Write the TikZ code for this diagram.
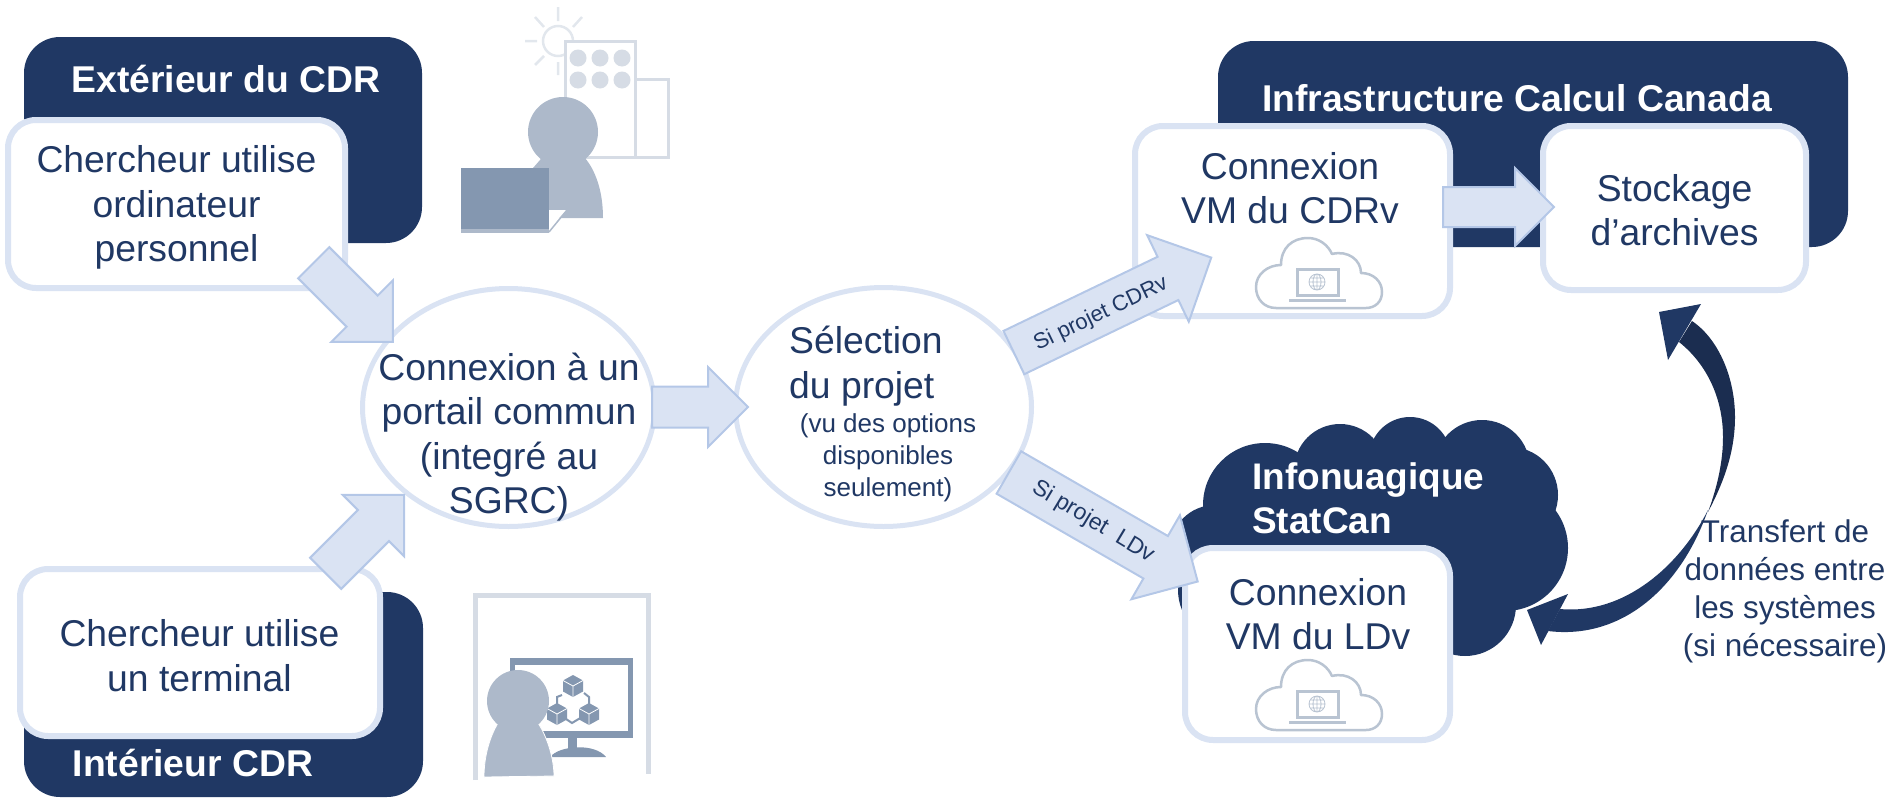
\documentclass[tikz,border=0pt]{standalone}
\usepackage{fontspec}
\setmainfont{Liberation Sans}
\usepackage{tikz}
\usetikzlibrary{shapes,arrows}
\definecolor{navy}{HTML}{203864}
\definecolor{navyDark}{HTML}{1B2D50}
\definecolor{paleBlue}{HTML}{DAE3F3}
\definecolor{midBlue}{HTML}{B4C7E7}
\definecolor{iconPale}{HTML}{D6DCE5}
\definecolor{iconMid}{HTML}{ADB9CA}
\definecolor{iconDark}{HTML}{8497B0}
\newcommand{\bodyfont}{\fontsize{37.3}{44.5}\selectfont}
\newcommand{\smallfont}{\fontsize{26}{32}\selectfont}
\tikzset{
	darkbox/.style  = {fill=navy, rounded corners=36pt},
	whitebox/.style = {draw=paleBlue, fill=white, line width=6pt, rounded corners=28pt},
	bubble/.style   = {draw=paleBlue, fill=white, line width=5pt, shape=ellipse, inner sep=0pt},
	txt/.style      = {text=navy, font=\bodyfont, align=center, inner sep=0pt},
	titletxt/.style = {text=white, font=\fontsize{37.3}{44}\selectfont\bfseries, align=left, inner sep=0pt},
	fatarrow/.style = {draw=midBlue, fill=paleBlue, line width=2pt, shape=single arrow, anchor=tail,
		single arrow tip angle=90, inner xsep=0pt},
	pics/vmcloud/.style = {code={
		\draw[iconMid!85!white, line width=2.5pt, line join=round]
			(-42,34) .. controls (-54,34) and (-62,25) .. (-62,13)
			.. controls (-62,0) and (-50,-9) .. (-37,-9)
			.. controls (-37,-26) and (-26,-36) .. (-10,-36)
			.. controls (1,-36) and (10,-29) .. (14,-20)
			.. controls (30,-24) and (43,-14) .. (43,-1)
			.. controls (55,-1) and (64,7) .. (64,18)
			.. controls (64,28) and (57,34) .. (48,34) -- cycle;
		\draw[iconMid!85!white, line width=3pt] (-21,-5) rectangle (20,21);
		\fill[iconMid!85!white] (-29,25) rectangle (28,28);
		\draw[iconMid!85!white, line width=0.8pt] (-1,8) circle (8) (-1,8) ellipse (4 and 8)
			(-9,8) -- (7,8) (-8,4) -- (6,4) (-8,12) -- (6,12) (-1,0) -- (-1,16);
	}},
}

\begin{document}
\begin{tikzpicture}[x=1pt, y=-1pt]
    \useasboundingbox (0,0) rectangle (1891,798);

    %-- Blocks creation --%
    \draw
      % LEFT SIDE %
      node(outsideBack) at (223,140) [darkbox, minimum width=398, minimum height=206] {}
      node(insideBack) at (223.5,694.5) [darkbox, minimum width=399, minimum height=205] {}
      node(outsideTitle) at (226,79) [titletxt] {Extérieur du CDR}
      node(insideTitle) at (193,763) [titletxt] {Intérieur CDR}
      node(outsideUser) at (176.5,204) [whitebox, minimum width=337, minimum height=168] {}
      node(outsideUserText) at (176.5,207.5) [txt] {Chercheur utilise\\ordinateur\\personnel}
      node(insideUser) at (200,652.5) [whitebox, minimum width=360, minimum height=167] {}
      node(insideUserText) at (199.5,655.5) [txt] {Chercheur utilise\\un terminal}
      % MIDDLE %
      node(portal) at (508.5,407.5) [bubble, minimum width=292, minimum height=238] {}
      node(portalText) at (509,437) [txt] {Connexion à un\\portail commun\\(integré au\\SGRC)}
      node(selection) at (883.5,407) [bubble, minimum width=296, minimum height=239] {}
      node[anchor=west](selectionText) at (789,366) [txt, align=left] {Sélection\\du projet}
      node(selectionNote) at (888,458) [txt, font=\smallfont] {(vu des options\\disponibles\\seulement)}
    ;
    % cloud lobes %
    \foreach \cx/\cy/\cr in {1265/505/62, 1340/470/46, 1410/458/41, 1482/468/48, 1510/495/48,
                             1505/548/63, 1465/605/51, 1230/590/52, 1215/550/45, 1370/540/100}
      \fill[navy] (\cx,\cy) circle (\cr);
    \draw
      % RIGHT SIDE %
      node(calculBack) at (1533,144) [darkbox, minimum width=630, minimum height=206] {}
      node(calculTitle) at (1517,98) [titletxt] {Infrastructure Calcul Canada}
      node(vmCdrv) at (1292.5,221) [whitebox, minimum width=315, minimum height=190] {}
      node(vmCdrvText) at (1290,188) [txt] {Connexion\\VM du CDRv}
      node(archives) at (1674.5,208) [whitebox, minimum width=263, minimum height=164] {}
      node(archivesText) at (1674.5,210) [txt] {Stockage\\d’archives}
      node[anchor=west](cloudTitle) at (1252,498) [titletxt, font=\fontsize{37}{44}\selectfont\bfseries]
        {Infonuagique\\StatCan}
      node(vmLdv) at (1317.5,644) [whitebox, minimum width=265, minimum height=192] {}
      node(vmLdvText) at (1318,614) [txt] {Connexion\\VM du LDv}
      node(transferText) at (1785,591) [txt, font=\fontsize{31.4}{38}\selectfont]
        {Transfert de\\données entre\\les systèmes\\(si nécessaire)}
    ;
    \pic at (1318,274) {vmcloud};
    \pic at (1318,696) {vmcloud};

    %-- Block linking --%
    \node[fatarrow, rotate=-45, minimum height=112, inner ysep=21, single arrow head extend=21.5]
      (outsideToPortal) at (313,262) {};
    \node[fatarrow, rotate=45, minimum height=111, inner ysep=21, single arrow head extend=21.5]
      (insideToPortal) at (325,574) {};
    \node[fatarrow, minimum height=96, inner ysep=19.5, single arrow head extend=19.5]
      (portalToSelection) at (651,407) {};
    \node[fatarrow, rotate=25.7, minimum height=219, inner ysep=23, single arrow head extend=24]
      (selectionToCdrv) at (1013,353) {};
    \node[fatarrow, rotate=-30, minimum height=218, inner ysep=23.5, single arrow head extend=24]
      (selectionToLdv) at (1008,472) {};
    \node[fatarrow, minimum height=111, inner ysep=19, single arrow head extend=19]
      (cdrvToArchives) at (1442,207) {};

    % arrow labels %
    \node[txt, rotate=25.7, font=\fontsize{22}{26}\selectfont] (cdrvLabel) at (1101,314) {Si projet CDRv};
    \node[txt, rotate=-31, font=\fontsize{23}{26}\selectfont] (ldvLabel) at (1093,522) {Si projet\ \ LDv};

    %-- Transfer arrow --%
    \fill[navy] (1708,510) .. controls (1680,565) and (1625,615) .. (1560,609)
      -- (1548,631) .. controls (1620,640) and (1680,590) .. (1708,510) -- cycle;
    \fill[navy] (1527,610) -- (1568,594) -- (1541,645) -- cycle;
    \fill[navyDark] (1692,321) .. controls (1720,340) and (1735,380) .. (1735,417)
      .. controls (1735,450) and (1725,480) .. (1708,512)
      .. controls (1718,485) and (1723,460) .. (1723,437)
      .. controls (1723,400) and (1708,365) .. (1679,342) -- cycle;
    \fill[navy] (1659,312) -- (1701,304) -- (1668,360) -- cycle;

    %-- Outside icon --%
    \draw[iconPale!70!white, line width=2.5pt] (558,41) circle (15)
      (558,7) -- (558,21) (558,62) -- (558,75) (525,41) -- (537,41)
      (535,17) -- (544,27) (582,17) -- (573,27) (535,65) -- (544,56);
    \draw[iconPale, line width=3pt, fill=white] (635,79) rectangle (668,157);
    \draw[iconPale, line width=3pt, fill=white] (565,41) rectangle (635,157);
    \foreach \dx in {578,600,622}
      \foreach \dy in {58,80}
        \fill[iconPale] (\dx,\dy) circle (8.5);
    \fill[iconMid] (563,132) circle (35);
    \fill[iconMid] (547,152) -- (533,168) -- (520,218) -- (603,218)
      .. controls (603,190) and (595,170) .. (585,158) -- cycle;
    \fill[iconMid] (461,228) rectangle (549,233);
    \fill[white] (549,210) -- (567,210) -- (549,228) -- cycle;
    \draw[iconMid, line width=1.5pt] (567,210) -- (549,232);
    \fill[iconDark] (461,168) rectangle (549,229);

    %-- Inside icon --%
    \draw[iconPale, line width=4.5pt] (475.5,780) -- (475.5,595.5) -- (648.5,595.5) -- (648.5,774);
    \fill[iconDark] (510,658) rectangle (633,738);
    \fill[white] (515,665) rectangle (628,731);
    \fill[iconDark] (568,738) rectangle (577,748);
    \fill[iconDark] (550,757) .. controls (560,745) and (595,743) .. (606,757) -- cycle;
    \draw[iconDark, line width=2pt] (562,695) -- (557,697) -- (557,705)
      (584,693) -- (589,697) -- (589,705) (563,717) -- (572,723) -- (582,717);
    \foreach \qx/\qy in {573/686, 557/714, 589/714} {
      \fill[iconDark] (\qx,\qy) ++(0,-11) -- ++(10,5.5) -- ++(0,11) -- ++(-10,5.5) -- ++(-10,-5.5) -- ++(0,-11) -- cycle;
      \draw[white, line width=0.8pt] (\qx,\qy) -- ++(-10,-5.5) (\qx,\qy) -- ++(10,-5.5) (\qx,\qy) -- ++(0,11);
    }
    \draw[white, line width=0.8pt, fill=iconMid] (498,723) .. controls (488,740) and (484,760) .. (484,777)
      -- (554,776) .. controls (554,760) and (548,738) .. (538,723) -- cycle;
    \fill[iconMid] (518,701) circle (31);
\end{tikzpicture}
\end{document}
